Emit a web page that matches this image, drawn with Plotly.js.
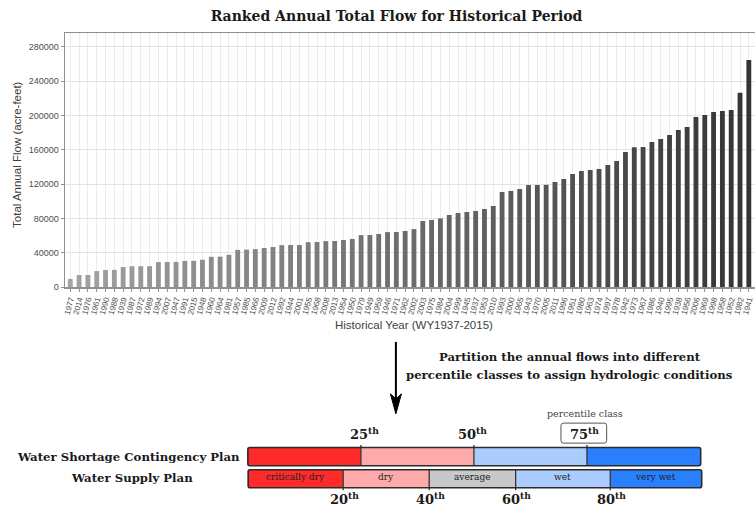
<!DOCTYPE html>
<html><head><meta charset="utf-8">
<script src="https://cdn.plot.ly/plotly-3.0.1.min.js"></script>
<style>html,body{margin:0;padding:0;background:#fff}#chart{width:755px;height:510px}</style>
</head><body><div id="chart"></div>
<script>
// ---- data (ranked, ascending) ----
const years = ['1977','2014','1976','1961','1990','1988','1939','1987','1972','1989',
  '1994','2007','1947','1991','2015','1948','1960','1964','1981','1957',
  '1985','1966','2009','2012','1992','1944','2001','1955','1968','2008',
  '2013','1954','1950','1979','1949','1959','1946','1971','1962','2002',
  '2003','1975','1984','2004','1999','1945','1937','1953','2010','1993',
  '2000','1965','1943','1970','2005','2011','1996','1951','1980','1963',
  '1974','1997','1978','1942','1973','1967','1986','1940','1995','1938',
  '1956','2006','1969','1998','1958','1952','1982','1941','1983'];
const flows = [9500,14000,14000,18500,19800,20000,23300,24200,24200,24300,
  29000,29200,29300,30400,30500,31800,35200,35400,37600,43300,
  43600,44200,45500,46700,48800,49000,49000,52300,52500,53500,
  53700,54800,56000,60500,60700,61800,64000,64200,65300,67500,
  77000,78200,80000,84000,86300,87500,88700,91000,94500,110800,
  112000,114300,119000,119000,119200,122500,126000,131800,135300,136500,
  137700,142300,147000,157500,163000,163300,169200,172700,177300,183200,
  186700,198300,200700,204200,205300,206500,226700,264800,282000];
const yTicks = [0,40000,80000,120000,160000,200000,240000,280000];
const wscpPercentiles = ['25','50','75'];
const wspClasses = ['critically dry','dry','average','wet','very wet'];
const wspPercentiles = ['20','40','60','80'];

// ---- geometry helpers (pixel -> paper) ----
const L = 65.2, T = 32.7, PB = 287, PW = 755 - L, PH = PB - T;
const px = x => (x - L) / PW;
const py = y => (PB - y) / PH;
const serif = 'DejaVu Serif';
const sans = 'Liberation Sans, Arial, sans-serif';

const ranks = years.map((_, i) => i);

const trace = {
  type: 'bar', x: years, y: flows, width: 0.55,
  marker: { color: ranks, colorscale: [[0, '#a3a3a3'], [1, '#333333']], showscale: false, line: { width: 0 } },
  hoverinfo: 'x+y'
};

const shapes = [];
const annotations = [];

function rectPx(x0, y0, x1, y1, fill) {
  shapes.push({ type: 'rect', xref: 'paper', yref: 'paper', x0: px(x0), x1: px(x1), y0: py(y1), y1: py(y0),
    fillcolor: fill, line: { width: 0 }, layer: 'above' });
}
function rrectPx(x0, y0, x1, y1, r, color, w) {
  const P = (x, y) => px(x) + ',' + py(y);
  const d = 'M' + P(x0 + r, y0) + ' L' + P(x1 - r, y0) + ' Q' + P(x1, y0) + ' ' + P(x1, y0 + r) +
    ' L' + P(x1, y1 - r) + ' Q' + P(x1, y1) + ' ' + P(x1 - r, y1) +
    ' L' + P(x0 + r, y1) + ' Q' + P(x0, y1) + ' ' + P(x0, y1 - r) +
    ' L' + P(x0, y0 + r) + ' Q' + P(x0, y0) + ' ' + P(x0 + r, y0) + ' Z';
  shapes.push({ type: 'path', xref: 'paper', yref: 'paper', path: d, line: { color: color, width: w }, layer: 'above' });
}
function linePx(x0, y0, x1, y1, color, w) {
  shapes.push({ type: 'line', xref: 'paper', yref: 'paper', x0: px(x0), x1: px(x1), y0: py(y0), y1: py(y1),
    line: { color: color, width: w }, layer: 'above' });
}
function textPx(x, y, text, size, color, extra) {
  annotations.push(Object.assign({ xref: 'paper', yref: 'paper', x: px(x), y: py(y), text: text, showarrow: false,
    xanchor: 'center', yanchor: 'middle', font: { family: serif, size: size, color: color } }, extra || {}));
}

// axis titles
textPx(414, 325, 'Historical Year (WY1937-2015)', 11.5, '#404040', { font: { family: sans, size: 11.5, color: '#404040' } });
textPx(17, 154, 'Total Annual Flow (acre-feet)', 11.5, '#404040', { textangle: -90, font: { family: sans, size: 11.5, color: '#404040' } });

// arrow
linePx(396, 342, 396, 400, '#000', 2);
shapes.push({ type: 'path', xref: 'paper', yref: 'paper', fillcolor: '#000', line: { color: '#000', width: 1 }, layer: 'above',
  path: 'M' + px(390.5) + ',' + py(394) + ' L' + px(396) + ',' + py(414) + ' L' + px(401.5) + ',' + py(394) + ' L' + px(396) + ',' + py(399) + ' Z' });

textPx(570, 357, '<b>Partition the annual flows into different</b>', 11.7, '#1a1a1a');
textPx(570, 375, '<b>percentile classes to assign hydrologic conditions</b>', 11.7, '#1a1a1a');

// Water Shortage Contingency Plan bar
const topX = [248, 361, 474, 587, 700.7];
const topCols = ['#ff2a2a', '#ffaaaa', '#aaccff', '#2a7fff'];
const tY0 = 447.7, tY1 = 466;
for (let i = 0; i < 4; i++) rectPx(topX[i], tY0, topX[i + 1], tY1, topCols[i]);
for (let i = 1; i < 4; i++) linePx(topX[i], tY0 - 2.5, topX[i], tY1, '#333', 1.3);
rrectPx(topX[0], tY0, topX[4], tY1, 2, '#2b2b2b', 1.6);

// Water Supply Plan bar
const botX = [248.3, 343.3, 429.3, 515.7, 610.3, 701.7];
const botCols = ['#ff2a2a', '#ffaaaa', '#c8c8c8', '#aaccff', '#2a7fff'];
const bY0 = 470, bY1 = 488;
for (let i = 0; i < 5; i++) rectPx(botX[i], bY0, botX[i + 1], bY1, botCols[i]);
for (let i = 1; i < 5; i++) linePx(botX[i], bY0, botX[i], bY1 + 2.5, '#333', 1.3);
rrectPx(botX[0], bY0, botX[5], bY1, 2, '#2b2b2b', 1.6);
for (let i = 0; i < 5; i++) textPx((botX[i] + botX[i + 1]) / 2, 477.5, wspClasses[i], 9, '#222');

// left labels
textPx(129, 457, '<b>Water Shortage Contingency Plan</b>', 11.7, '#1a1a1a');
textPx(132.5, 478, '<b>Water Supply Plan</b>', 11.7, '#1a1a1a');

// percentile labels
textPx(365, 434, '<b>' + wscpPercentiles[0] + '<sup>th</sup></b>', 13, '#1a1a1a');
textPx(473, 434, '<b>' + wscpPercentiles[1] + '<sup>th</sup></b>', 13, '#1a1a1a');
textPx(584.5, 433.5, '<b>' + wscpPercentiles[2] + '<sup>th</sup></b>', 13, '#1a1a1a');
rrectPx(561, 423.3, 606.7, 443.3, 2.5, '#555', 1);
textPx(584.7, 414, 'percentile class', 9.5, '#444');
for (let i = 0; i < 4; i++) textPx(botX[i + 1] + 1, 499, '<b>' + wspPercentiles[i] + '<sup>th</sup></b>', 13, '#1a1a1a');

const layout = {
  width: 755, height: 510,
  margin: { l: L, r: 0, t: T, b: 510 - PB, pad: 0 },
  paper_bgcolor: '#fff', plot_bgcolor: '#fff',
  showlegend: false,
  title: { text: '<b>Ranked Annual Total Flow for Historical Period</b>', x: 396.5 / 755, xanchor: 'center',
    y: 1 - 16 / 510, yanchor: 'middle', font: { family: serif, size: 14, color: '#1a1a1a' } },
  xaxis: {
    type: 'category', range: [-0.6, 77.7], tickangle: -75,
    tickmode: 'array', tickvals: years, ticktext: years,
    tickfont: { family: sans, size: 8, color: '#4d4d4d' },
    showgrid: true, gridcolor: '#ebebeb', gridwidth: 1,
    showline: true, linecolor: '#8c9196', linewidth: 1.5, mirror: true,
    ticks: 'outside', ticklen: 3, tickcolor: '#8c9196', zeroline: false
  },
  yaxis: {
    range: [0, 296300], tickvals: yTicks, ticktext: yTicks.map(String),
    tickfont: { family: sans, size: 9, color: '#4d4d4d' },
    showgrid: true, gridcolor: '#e3e3e3', gridwidth: 1,
    showline: true, linecolor: '#8c9196', linewidth: 1.5, mirror: true,
    ticks: 'outside', ticklen: 3, tickcolor: '#8c9196', zeroline: false
  },
  shapes: shapes, annotations: annotations
};
Plotly.newPlot('chart', [trace], layout, { displayModeBar: false, staticPlot: true });
</script></body></html>
